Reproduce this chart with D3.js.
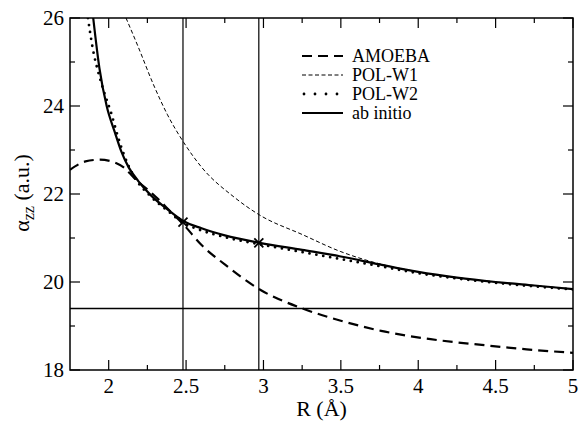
<!DOCTYPE html>
<html><head><meta charset="utf-8"><script src="https://cdn.jsdelivr.net/npm/d3@7"></script></head><body style="margin:0">
<svg id="c" width="581" height="422"></svg>
<script>
const xDomain = [1.75, 5];
const yDomain = [18, 26];
const xMajorTicks = [2, 2.5, 3, 3.5, 4, 4.5, 5];
const xMinorTicks = [2.25, 2.75, 3.25, 3.75, 4.25, 4.75];
const yMajorTicks = [18, 20, 22, 24, 26];
const yMinorTicks = [19, 21, 23, 25];

const amoebaR = [1.75, 1.85, 1.94, 2.05, 2.1, 2.16, 2.3, 2.4, 2.485, 2.6, 2.75, 2.976, 3.25, 3.5, 3.76, 4.08, 4.41, 4.7, 5];
const amoebaA = [22.55, 22.74, 22.78, 22.7, 22.6, 22.38, 21.95, 21.6, 21.3, 20.84, 20.4, 19.83, 19.4, 19.12, 18.89, 18.7, 18.57, 18.47, 18.39];

const polw1R = [2.112, 2.19, 2.29, 2.38, 2.485, 2.6, 2.81, 2.976, 3.25, 3.5, 3.7, 4, 4.25, 4.5, 4.75, 5];
const polw1A = [26, 25.35, 24.48, 23.8, 23.17, 22.61, 21.93, 21.52, 21.08, 20.69, 20.46, 20.23, 20.1, 20.0, 19.92, 19.84];

const polw2R = [1.866, 1.9, 1.93, 1.97, 2.015, 2.06, 2.1, 2.16, 2.27, 2.38, 2.48, 2.6, 2.75, 2.97, 3.25, 3.5, 3.75, 4, 4.25, 4.5, 4.75, 5];
const polw2A = [26, 25.25, 24.8, 24.32, 23.85, 23.3, 22.88, 22.42, 21.95, 21.62, 21.35, 21.17, 21.02, 20.86, 20.68, 20.52, 20.36, 20.2, 20.08, 19.98, 19.9, 19.83];

const abR = [1.9, 1.94, 1.987, 2.04, 2.08, 2.13, 2.19, 2.27, 2.38, 2.485, 2.6, 2.75, 2.976, 3.25, 3.5, 3.75, 4, 4.25, 4.5, 4.75, 5];
const abA = [26, 24.86, 24.0, 23.4, 22.98, 22.6, 22.3, 21.98, 21.65, 21.38, 21.22, 21.06, 20.89, 20.73, 20.58, 20.4, 20.23, 20.1, 20.0, 19.92, 19.84];

const vLinesR = [2.48, 2.97];
const hLineA = [19.4];
const markerR = [2.48, 2.97];
const markerA = [21.36, 20.89];

const legendLabels = ["AMOEBA", "POL-W1", "POL-W2", "ab initio"];

const svg = d3.select("#c");
const L = 70, R = 573, T = 18, B = 370;
const x = d3.scaleLinear().domain(xDomain).range([L, R]);
const y = d3.scaleLinear().domain(yDomain).range([B, T]);

function addText(px, py, size, str, anchor) {
  return svg.append("text").attr("x", px).attr("y", py).attr("font-size", size)
    .attr("text-anchor", anchor).style("font-family", '"Liberation Serif"').text(str);
}

const styles = [
  {w: 2.2, dash: "10,6", cap: "butt"},
  {w: 1, dash: "4,2.5", cap: "butt"},
  {w: 2.8, dash: "0,7", cap: "round"},
  {w: 2.2, dash: null, cap: "butt"}
];
const series = [
  [amoebaR, amoebaA], [polw1R, polw1A], [polw2R, polw2A], [abR, abA]
];

svg.append("clipPath").attr("id", "pc").append("rect")
  .attr("x", L).attr("y", T).attr("width", R - L).attr("height", B - T);
const plot = svg.append("g").attr("clip-path", "url(#pc)");

vLinesR.forEach(d => plot.append("line")
  .attr("x1", x(d)).attr("x2", x(d)).attr("y1", T).attr("y2", B)
  .attr("stroke", "#000").attr("stroke-width", 1.2));
hLineA.forEach(d => plot.append("line")
  .attr("x1", L).attr("x2", R).attr("y1", y(d)).attr("y2", y(d))
  .attr("stroke", "#000").attr("stroke-width", 1.5));

const line = d3.line().x(d => x(d[0])).y(d => y(d[1])).curve(d3.curveMonotoneX);
series.forEach((s, i) => {
  const pts = s[0].map((r, j) => [r, s[1][j]]);
  const st = styles[i];
  const p = plot.append("path").datum(pts).attr("d", line)
    .attr("fill", "none").attr("stroke", "#000")
    .attr("stroke-width", st.w).attr("stroke-linecap", st.cap);
  if (st.dash) p.attr("stroke-dasharray", st.dash);
});

const ms = 4.5;
markerR.forEach((r, i) => {
  const cx = x(r), cy = y(markerA[i]);
  plot.append("path").attr("d", `M${cx-ms},${cy-ms}L${cx+ms},${cy+ms}M${cx-ms},${cy+ms}L${cx+ms},${cy-ms}`)
    .attr("stroke", "#000").attr("stroke-width", 1.8);
});

svg.append("rect").attr("x", L).attr("y", T).attr("width", R - L).attr("height", B - T)
  .attr("fill", "none").attr("stroke", "#000").attr("stroke-width", 1.5);

const MJ = 10, MN = 5;
const tk = svg.append("g").attr("stroke", "#000").attr("stroke-width", 1.2);
xMajorTicks.forEach(v => {
  tk.append("line").attr("x1", x(v)).attr("x2", x(v)).attr("y1", B).attr("y2", B - MJ);
  tk.append("line").attr("x1", x(v)).attr("x2", x(v)).attr("y1", T).attr("y2", T + MJ);
});
xMinorTicks.forEach(v => {
  tk.append("line").attr("x1", x(v)).attr("x2", x(v)).attr("y1", B).attr("y2", B - MN);
  tk.append("line").attr("x1", x(v)).attr("x2", x(v)).attr("y1", T).attr("y2", T + MN);
});
yMajorTicks.forEach(v => {
  tk.append("line").attr("y1", y(v)).attr("y2", y(v)).attr("x1", L).attr("x2", L + MJ);
  tk.append("line").attr("y1", y(v)).attr("y2", y(v)).attr("x1", R).attr("x2", R - MJ);
});
yMinorTicks.forEach(v => {
  tk.append("line").attr("y1", y(v)).attr("y2", y(v)).attr("x1", L).attr("x2", L + MN);
  tk.append("line").attr("y1", y(v)).attr("y2", y(v)).attr("x1", R).attr("x2", R - MN);
});

xMajorTicks.forEach(v => addText(x(v), 393, 21, String(v), "middle"));
yMajorTicks.forEach(v => addText(64, y(v) + 7, 21, String(v), "end"));
addText((L + R) / 2, 416, 22, "R (Å)", "middle");

const yl = svg.append("text").attr("transform", "translate(29,193) rotate(-90)")
  .attr("text-anchor", "middle").attr("font-size", 22).style("font-family", '"Liberation Serif"');
yl.append("tspan").text("α");
yl.append("tspan").attr("font-size", 16).attr("dy", 5).text("zz");
yl.append("tspan").attr("dy", -5).text(" (a.u.)");

legendLabels.forEach((lab, i) => {
  const cy = 56 + i * 19;
  const st = styles[i];
  const ln = svg.append("line").attr("x1", 302).attr("x2", 343).attr("y1", cy).attr("y2", cy)
    .attr("stroke", "#000").attr("stroke-width", st.w).attr("stroke-linecap", st.cap);
  if (i === 2) ln.attr("stroke-dasharray", "0,11").attr("x1", 304);
  else if (st.dash) ln.attr("stroke-dasharray", st.dash);
  addText(352, cy + 6, 18, lab, "start");
});
</script></body></html>
